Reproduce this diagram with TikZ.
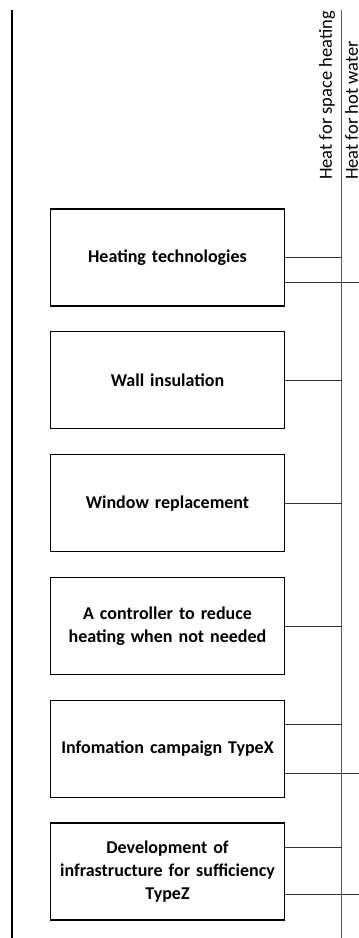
\documentclass[tikz,border=0pt]{standalone}
\usepackage{fontspec}
\setmainfont{Carlito}
\usetikzlibrary{positioning}

\begin{document}
\begin{tikzpicture}[x=1pt, y=-1pt,
    measure/.style={draw=black, line width=1.3pt, minimum width=233pt, minimum height=97pt,
      text width=228pt, align=center, font=\fontsize{18}{23}\selectfont\bfseries},
    effect/.style={rotate=90, anchor=west, inner sep=0pt, font=\fontsize{18.5}{22}\selectfont},
    link/.style={draw=black!80, line width=0.8pt}]
  \useasboundingbox (0,0) rectangle (359,938);
  % frame line on the left and the two effect lines
  \draw[line width=1.3pt] (12,10) -- (12,938);
  \coordinate (spacetop) at (341.5,10);
  \coordinate (hotwater) at (359,10);
  \draw[link, draw=black!65, line width=1pt] (spacetop) -- (spacetop |- 0,938);
  \node[effect] (spacelbl) at (327,180) {Heat for space heating};
  \node[effect] (waterlbl) at (351.5,180) {Heat for hot water};

  % measures
  \node[measure] (heattech) at (167.5,257.5) {Heating technologies};
  \node[measure, below=24.5pt of heattech] (wallins) {Wall insulation};
  \node[measure, below=24.5pt of wallins] (window) {Window replacement};
  \node[measure, below=24.5pt of window] (controller) {A controller to reduce\\heating when not needed};
  \node[measure, below=24.5pt of controller] (infocamp) {Infomation campaign TypeX};
  \node[measure, below=24.5pt of infocamp] (infrastr) {Development of\\infrastructure for sufficiency\\TypeZ};

  % links to the effects
  \draw[link] (heattech.east) -- (spacetop |- heattech.east);
  \draw[link] ([yshift=-24.5pt]heattech.east) coordinate (ht2) -- (hotwater |- ht2);
  \draw[link] (wallins.east) -- (spacetop |- wallins.east);
  \draw[link] (window.east) -- (spacetop |- window.east);
  \draw[link] (controller.east) -- (spacetop |- controller.east);
  \draw[link] ([yshift=24.5pt]infocamp.east) coordinate (ic1) -- (spacetop |- ic1);
  \draw[link] ([yshift=-24.5pt]infocamp.east) coordinate (ic2) -- (hotwater |- ic2);
  \draw[link] ([yshift=24pt]infrastr.east) coordinate (is1) -- (spacetop |- is1);
  \draw[link] ([yshift=-23pt]infrastr.east) coordinate (is2) -- (hotwater |- is2);
\end{tikzpicture}
\end{document}
